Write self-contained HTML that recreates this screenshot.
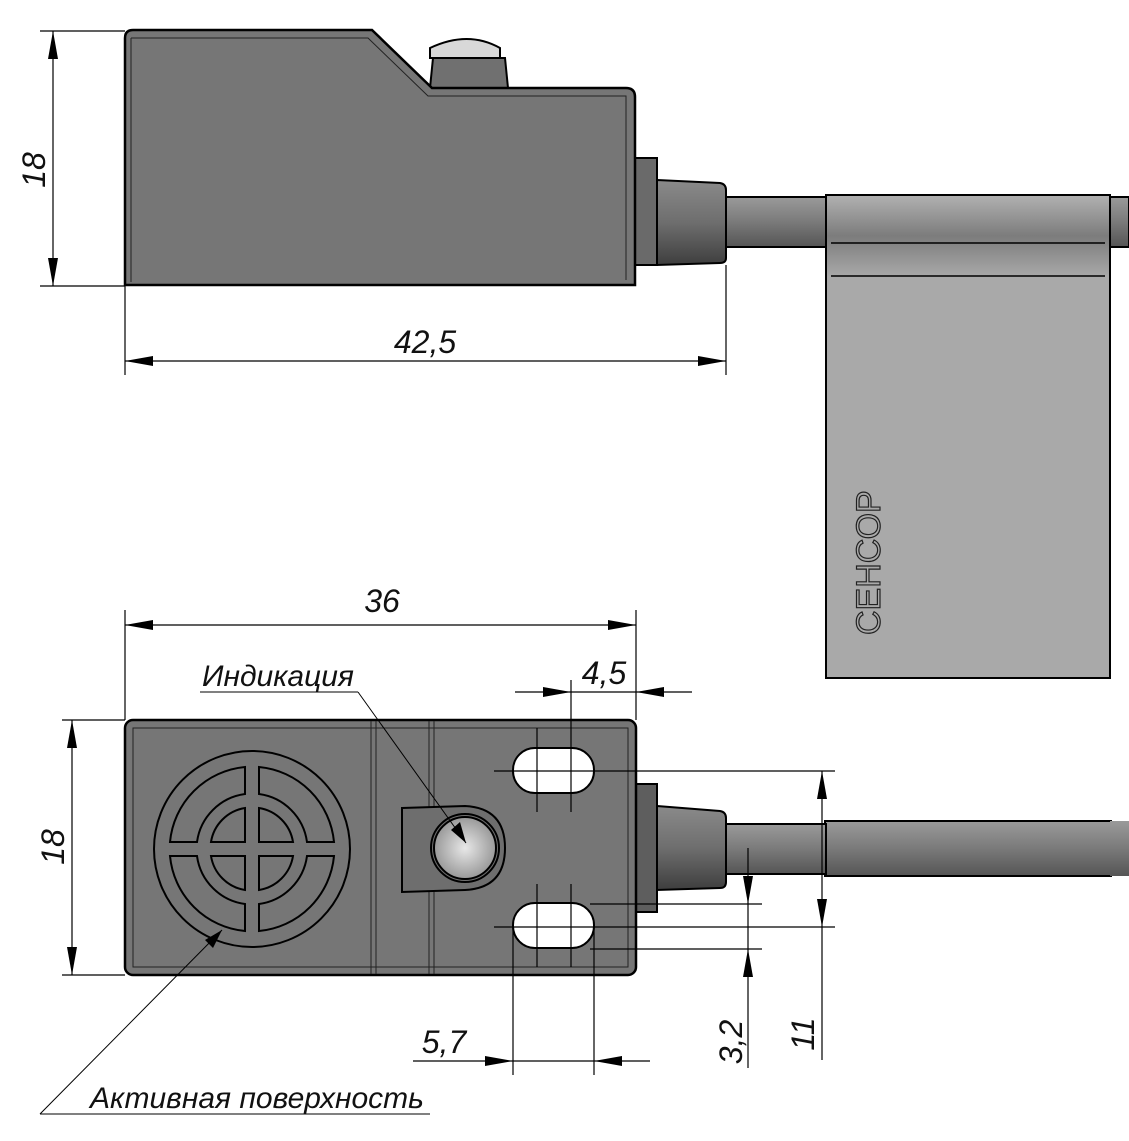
<!DOCTYPE html>
<html><head><meta charset="utf-8"><style>
html,body{margin:0;padding:0;background:#fff;}
svg{display:block;}
.t{font-family:"Liberation Sans Narrow","Liberation Sans",sans-serif;font-style:italic;fill:#111;}
</style></head><body>
<svg width="1129" height="1141" viewBox="0 0 1129 1141" xmlns="http://www.w3.org/2000/svg">
<defs>
<linearGradient id="cab" x1="0" y1="0" x2="0" y2="1">
<stop offset="0" stop-color="#9a9a9a"/><stop offset="0.5" stop-color="#7a7a7a"/><stop offset="1" stop-color="#555"/></linearGradient>
<linearGradient id="nut" x1="0" y1="0" x2="0" y2="1">
<stop offset="0" stop-color="#8a8a8a"/><stop offset="0.5" stop-color="#6e6e6e"/><stop offset="1" stop-color="#3e3e3e"/></linearGradient>
<linearGradient id="tag" x1="0" y1="0" x2="0" y2="1">
<stop offset="0" stop-color="#b0b0b0"/><stop offset="0.5" stop-color="#7c7c7c"/><stop offset="1" stop-color="#a8a8a8"/></linearGradient>
<radialGradient id="led" cx="0.5" cy="0.5" r="0.5">
<stop offset="0" stop-color="#e8e8e8"/><stop offset="1" stop-color="#999"/></radialGradient>
</defs>

<!-- ===== TOP VIEW ===== -->
<!-- cable right part -->
<rect x="726" y="197" width="110" height="50" fill="url(#cab)" stroke="#000" stroke-width="2"/>
<rect x="1100" y="197" width="29" height="50" fill="url(#cab)" stroke="#000" stroke-width="2"/>
<!-- tag -->
<rect x="826" y="195" width="284" height="483" fill="#a9a9a9" stroke="#000" stroke-width="2"/>
<rect x="827" y="196" width="282" height="80" fill="url(#tag)"/>
<line x1="831" y1="243" x2="1105" y2="243" stroke="#000" stroke-width="1.5"/>
<line x1="831" y1="276" x2="1105" y2="276" stroke="#000" stroke-width="1.5"/>
<text class="t" transform="translate(880,635) rotate(-90)" font-size="34" fill="none" stroke="#222" stroke-width="1.2" style="font-style:normal;fill:none">СЕНСОР</text>
<!-- nut -->
<path d="M657 180 L720 183 Q726 184 726 190 L726 258 Q726 263 720 263 L657 265 Z" fill="url(#nut)" stroke="#000" stroke-width="2"/>
<rect x="635" y="158" width="22" height="107" fill="#6a6a6a" stroke="#000" stroke-width="2"/>
<!-- dome -->
<path d="M430 88 L433 58 L505 58 L508 88 Z" fill="#707070" stroke="#000" stroke-width="2"/>
<path d="M430 58 L430 48 Q468 30 500 48 L500 58 Z" fill="#d8d8d8" stroke="#000" stroke-width="2"/>
<!-- body -->
<path d="M133 30 L372 30 L432 88 L626 88 Q635 88 635 97 L635 285 L125 285 L125 38 Q125 30 133 30 Z" fill="#767676" stroke="#000" stroke-width="2.5"/>
<path d="M131 38 L368 38 L428 96 L626 96 L626 280" fill="none" stroke="#222" stroke-width="1"/>
<line x1="131" y1="38" x2="131" y2="282" stroke="#222" stroke-width="1"/>

<!-- dims top -->
<g stroke="#000" stroke-width="1.2">
<line x1="40" y1="31" x2="125" y2="31"/><line x1="40" y1="286" x2="125" y2="286"/>
<line x1="53" y1="31" x2="53" y2="286"/>
<line x1="125" y1="286" x2="125" y2="375"/><line x1="726" y1="265" x2="726" y2="375"/>
<line x1="125" y1="361" x2="726" y2="361"/>
</g>
<g fill="#000">
<polygon points="53,31 48,59 58,59"/><polygon points="53,286 48,258 58,258"/>
<polygon points="125,361 153,356 153,366"/><polygon points="726,361 698,356 698,366"/>
</g>
<text class="t" transform="translate(45,170) rotate(-90)" font-size="32" text-anchor="middle">18</text>
<text class="t" x="425" y="353" font-size="32" text-anchor="middle">42,5</text>

<!-- ===== BOTTOM VIEW ===== -->
<rect x="825" y="821" width="286" height="55" fill="url(#cab)" stroke="#000" stroke-width="2"/>
<rect x="1110" y="821" width="19" height="55" fill="url(#cab)"/>
<rect x="726" y="824" width="100" height="50" fill="url(#cab)" stroke="#000" stroke-width="2"/>
<path d="M657 806 L720 811 Q726 812 726 818 L726 882 Q726 888 720 888 L657 890 Z" fill="url(#nut)" stroke="#000" stroke-width="2"/>
<rect x="636" y="784" width="21" height="128" fill="#5e5e5e" stroke="#000" stroke-width="2"/>
<rect x="125" y="720" width="511" height="255" rx="8" fill="#767676" stroke="#000" stroke-width="2.5"/>
<rect x="133" y="728" width="495" height="239" fill="none" stroke="#222" stroke-width="1"/>
<g stroke="#222" stroke-width="1"><line x1="371" y1="721" x2="371" y2="974"/><line x1="376" y1="721" x2="376" y2="974"/><line x1="429" y1="721" x2="429" y2="974"/><line x1="434" y1="721" x2="434" y2="974"/></g>
<!-- target -->
<g stroke="#000" stroke-width="2" fill="none">
<circle cx="252" cy="849" r="98"/>
<path d="M245 767 A83 83 0 0 0 170 842 L197 842 A56 56 0 0 1 245 794 Z"/>
<path d="M259 767 A83 83 0 0 1 334 842 L307 842 A56 56 0 0 0 259 794 Z"/>
<path d="M245 931 A83 83 0 0 1 170 856 L197 856 A56 56 0 0 0 245 904 Z"/>
<path d="M259 931 A83 83 0 0 0 334 856 L307 856 A56 56 0 0 1 259 904 Z"/>
<path d="M245 808 A41 41 0 0 0 211 842 L245 842 Z"/>
<path d="M259 808 A41 41 0 0 1 293 842 L259 842 Z"/>
<path d="M245 890 A41 41 0 0 1 211 856 L245 856 Z"/>
<path d="M259 890 A41 41 0 0 0 293 856 L259 856 Z"/>
</g>
<!-- led housing -->
<path d="M402 808 L465 806 Q505 808 505 848 Q505 888 465 890 L402 892 Z" fill="#6e6e6e" stroke="#000" stroke-width="2"/>
<circle cx="465" cy="848" r="34" fill="#707070" stroke="#000" stroke-width="2"/>
<circle cx="465" cy="848" r="31" fill="url(#led)" stroke="#000" stroke-width="2"/>
<!-- slots -->
<rect x="513" y="748" width="81" height="45" rx="22" fill="#fff" stroke="#000" stroke-width="2"/>
<rect x="513" y="903" width="81" height="45" rx="22" fill="#fff" stroke="#000" stroke-width="2"/>
<!-- center lines / extension lines -->
<g stroke="#000" stroke-width="1.2">
<line x1="537" y1="728" x2="537" y2="812"/><line x1="571" y1="680" x2="571" y2="812"/>
<line x1="537" y1="884" x2="537" y2="967"/><line x1="571" y1="884" x2="571" y2="967"/>
<line x1="494" y1="771" x2="835" y2="771"/><line x1="494" y1="927" x2="835" y2="927"/>
<line x1="590" y1="904" x2="762" y2="904"/><line x1="590" y1="949" x2="762" y2="949"/>
<line x1="513" y1="925" x2="513" y2="1075"/><line x1="594" y1="925" x2="594" y2="1075"/>
<line x1="748" y1="848" x2="748" y2="1068"/><line x1="822" y1="771" x2="822" y2="1060"/>
<line x1="413" y1="1061" x2="513" y2="1061"/><line x1="513" y1="1061" x2="594" y2="1061"/><line x1="594" y1="1061" x2="650" y2="1061"/>
<line x1="515" y1="692" x2="571" y2="692"/><line x1="571" y1="692" x2="636" y2="692"/><line x1="636" y1="692" x2="692" y2="692"/>
<line x1="636" y1="610" x2="636" y2="720"/><line x1="125" y1="610" x2="125" y2="720"/>
<line x1="125" y1="625" x2="636" y2="625"/>
<line x1="62" y1="720" x2="125" y2="720"/><line x1="62" y1="975" x2="125" y2="975"/>
<line x1="72" y1="720" x2="72" y2="975"/>
</g>
<g fill="#000">
<polygon points="125,625 153,620 153,630"/><polygon points="636,625 608,620 608,630"/>
<polygon points="72,720 67,748 77,748"/><polygon points="72,975 67,947 77,947"/>
<polygon points="571,692 543,687 543,697"/><polygon points="636,692 664,687 664,697"/>
<polygon points="513,1061 485,1056 485,1066"/><polygon points="594,1061 622,1056 622,1066"/>
<polygon points="822,771 817,799 827,799"/><polygon points="822,927 817,899 827,899"/>
<polygon points="748,904 743,876 753,876"/><polygon points="748,949 743,977 753,977"/>
</g>
<text class="t" x="382" y="612" font-size="32" text-anchor="middle">36</text>
<text class="t" x="604" y="684" font-size="32" text-anchor="middle">4,5</text>
<text class="t" transform="translate(64,847) rotate(-90)" font-size="32" text-anchor="middle">18</text>
<text class="t" x="444" y="1053" font-size="32" text-anchor="middle">5,7</text>
<text class="t" transform="translate(742,1042) rotate(-90)" font-size="32" text-anchor="middle">3,2</text>
<text class="t" transform="translate(814,1034) rotate(-90)" font-size="32" text-anchor="middle">11</text>
<!-- leaders -->
<g stroke="#000" stroke-width="1">
<line x1="200" y1="692" x2="358" y2="692"/><line x1="358" y1="692" x2="466" y2="843"/>
<line x1="40" y1="1114" x2="430" y2="1114"/><line x1="40" y1="1114" x2="222" y2="930"/>
</g>
<polygon points="466,843 451,830 460,822" fill="#000"/>
<polygon points="222,930 205,940 213,948" fill="#000"/>
<text class="t" x="202" y="686" font-size="30">Индикация</text>
<text class="t" x="90" y="1108" font-size="30">Активная поверхность</text>
</svg>
</body></html>
